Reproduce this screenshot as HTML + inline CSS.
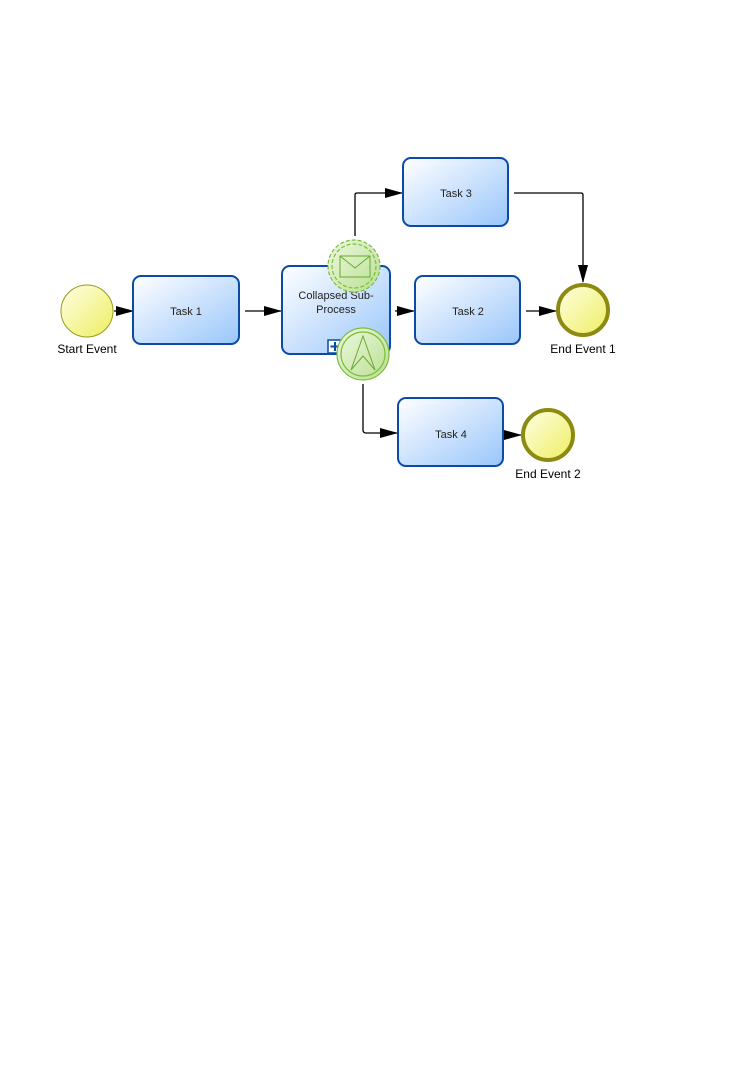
<!DOCTYPE html>
<html><head><meta charset="utf-8"><style>
html,body{margin:0;padding:0;background:#fff;}
svg{display:block;}
text{font-family:"Liberation Sans",Arial,sans-serif;}
</style></head><body>
<svg width="744" height="1081" viewBox="0 0 744 1081" xmlns="http://www.w3.org/2000/svg">
<defs>
<linearGradient id="tg" x1="0" y1="0" x2="1" y2="1">
<stop offset="0" stop-color="#ffffff"/><stop offset="1" stop-color="#99c6fb"/></linearGradient>
<linearGradient id="yg" x1="0" y1="0" x2="1" y2="1">
<stop offset="0" stop-color="#ffffe6"/><stop offset="1" stop-color="#eeee60"/></linearGradient>
<linearGradient id="gg" x1="0" y1="0" x2="1" y2="1">
<stop offset="0" stop-color="#eef8e0"/><stop offset="1" stop-color="#b8e090"/></linearGradient>
<marker id="ar" markerWidth="18" markerHeight="10" refX="17" refY="5" orient="auto" markerUnits="userSpaceOnUse">
<path d="M0,0 L18,5 L0,10 Z" fill="#000"/></marker>
</defs>
<g stroke="#000" stroke-width="1.3" fill="none">
<line x1="114" y1="311" x2="133" y2="311" marker-end="url(#ar)"/>
<line x1="245" y1="311" x2="281" y2="311" marker-end="url(#ar)"/>
<line x1="395" y1="311" x2="414" y2="311" marker-end="url(#ar)"/>
<line x1="526" y1="311" x2="556" y2="311" marker-end="url(#ar)"/>
<path d="M355,236 V195 Q355,193 357,193 H402" marker-end="url(#ar)"/>
<path d="M514,193 H581 Q583,193 583,195 V282" marker-end="url(#ar)"/>
<path d="M363,384 V430 Q363,433 366,433 H397" marker-end="url(#ar)"/>
<line x1="503" y1="435" x2="521" y2="435" marker-end="url(#ar)"/>
</g>
<circle cx="87" cy="311" r="26" fill="url(#yg)" stroke="#9a9a20" stroke-width="1"/>
<text x="87" y="353" font-size="12" text-anchor="middle">Start Event</text>
<g stroke="#0b4aa6" stroke-width="2" fill="url(#tg)">
<rect x="133" y="276" width="106" height="68" rx="8"/>
<rect x="282" y="266" width="108" height="88" rx="8"/>
<rect x="403" y="158" width="105" height="68" rx="8"/>
<rect x="415" y="276" width="105" height="68" rx="8"/>
<rect x="398" y="398" width="105" height="68" rx="8"/>
</g>
<g font-size="11" text-anchor="middle" fill="#222">
<text x="186" y="315">Task 1</text>
<text x="336" y="299">Collapsed Sub-</text>
<text x="336" y="313">Process</text>
<text x="456" y="197">Task 3</text>
<text x="468" y="315">Task 2</text>
<text x="451" y="438">Task 4</text>
</g>
<rect x="328" y="340" width="14" height="13" fill="#fff" stroke="#0b4aa6" stroke-width="1.5"/>
<path d="M335,342 v9 M330.5,346.5 h9" stroke="#0b4aa6" stroke-width="2"/>
<circle cx="354" cy="266" r="26" fill="url(#gg)" stroke="#7cbd3c" stroke-width="1.2" stroke-dasharray="4,2"/>
<circle cx="354" cy="266" r="22" fill="none" stroke="#7cbd3c" stroke-width="1.2" stroke-dasharray="4,2"/>
<rect x="340" y="256" width="30" height="21" fill="none" stroke="#6aa832" stroke-width="1"/>
<path d="M340,256 L355,268 L370,256" fill="none" stroke="#6aa832" stroke-width="1"/>
<circle cx="363" cy="354" r="26" fill="url(#gg)" stroke="#7cbd3c" stroke-width="1.2"/>
<circle cx="363" cy="354" r="22" fill="none" stroke="#7cbd3c" stroke-width="1.2"/>
<path d="M351,370 L363,336 L375,370 L363,356 Z" fill="none" stroke="#6aa832" stroke-width="1"/>
<circle cx="583" cy="310" r="25" fill="url(#yg)" stroke="#8c8a10" stroke-width="4"/>
<text x="583" y="353" font-size="12" text-anchor="middle">End Event 1</text>
<circle cx="548" cy="435" r="25" fill="url(#yg)" stroke="#8c8a10" stroke-width="4"/>
<text x="548" y="478" font-size="12" text-anchor="middle">End Event 2</text>
</svg>
</body></html>
